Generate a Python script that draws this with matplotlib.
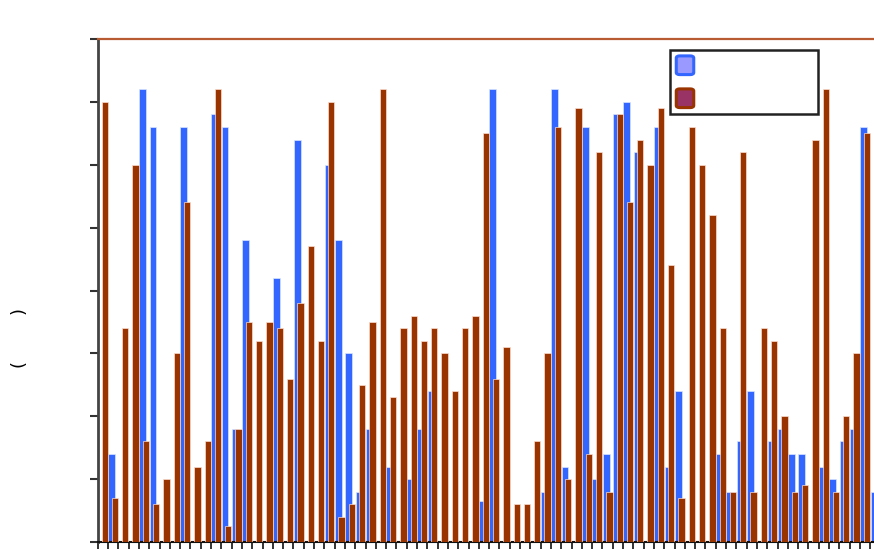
import matplotlib
matplotlib.use("Agg")
import matplotlib.pyplot as plt
from matplotlib.patches import Rectangle, FancyBboxPatch
import numpy as np

# category index (one per x tick) (0-80 scale)
categories = list(range(76))
series_blue = [0, 14, 0, 0, 72, 66, 0, 0, 66, 0,
               0, 68, 66, 18, 48, 0, 0, 42, 0, 64,
               0, 0, 60, 48, 30, 8, 18, 0, 12, 0,
               10, 18, 24, 0, 0, 0, 0, 6.5, 72, 0,
               0, 0, 0, 8, 72, 12, 0, 66, 10, 14,
               68, 70, 62, 0, 66, 12, 24, 0, 0, 0,
               14, 8, 16, 24, 0, 16, 18, 14, 14, 0,
               12, 10, 16, 18, 66, 8]
series_brown = [70, 7, 34, 60, 16, 6, 10, 30, 54, 12,
                16, 72, 2.5, 18, 35, 32, 35, 34, 26, 38,
                47, 32, 70, 4, 6, 25, 35, 72, 23, 34,
                36, 32, 34, 30, 24, 34, 36, 65, 26, 31,
                6, 6, 16, 30, 66, 10, 69, 14, 62, 8,
                68, 54, 64, 60, 69, 44, 7, 66, 60, 52,
                34, 8, 62, 8, 34, 32, 20, 8, 9, 64,
                72, 8, 20, 30, 65, 71]

BLUE = "#3366ff"
BROWN = "#993300"

W, H = 874, 550
fig = plt.figure(figsize=(W / 100, H / 100), dpi=100)
fig.patch.set_facecolor("white")

left_px, top_px, bottom_px = 97.7, 39, 542
pitch = 10.3
n_units = 80
ax = fig.add_axes([left_px / W, (H - bottom_px) / H,
                   n_units * pitch / W, (bottom_px - top_px) / H])

x = np.array(categories, dtype=float)
blue_vals = np.array(series_blue, dtype=float)
brown_vals = np.array(series_brown, dtype=float)
bmask = blue_vals > 0
rmask = brown_vals > 0
ax.bar(x[bmask] + 0.36, blue_vals[bmask], width=0.66, color=BLUE,
       edgecolor=(0.85, 0.9, 1.0, 0.7), linewidth=0.7, zorder=2)
ax.bar(x[rmask] + 0.68, brown_vals[rmask], width=0.62, color=BROWN,
       edgecolor=(1.0, 0.88, 0.82, 0.7), linewidth=0.7, zorder=3)

ax.set_xlim(0, n_units)
ax.set_ylim(0, 80)
ax.set_yticks(np.arange(0, 81, 10))
ax.set_yticklabels([])
ax.set_xticks(np.arange(0, n_units + 1, 1))
ax.set_xticklabels([])
ax.tick_params(axis="y", direction="out", length=6, width=1.5, color="#333333")
ax.tick_params(axis="x", direction="out", length=5, width=1.2, color="#111111")

ax.spines["right"].set_visible(False)
ax.spines["left"].set_color("#444444")
ax.spines["left"].set_linewidth(2)
ax.spines["bottom"].set_color("#111111")
ax.spines["bottom"].set_linewidth(1.5)
ax.spines["top"].set_color("#b85a32")
ax.spines["top"].set_linewidth(1.6)

# y-axis title (its inner characters are not rendered in the reference)
fig.text(20 / W, 1 - 338 / H, "(        )", rotation=90, fontsize=13,
         ha="center", va="center", family="DejaVu Sans")

# legend box (labels absent in the reference)
def fx(px):
    return px / W

def fy(py):
    return 1 - py / H

box = Rectangle((fx(670), fy(114)), fx(818) - fx(670), fy(50) - fy(114),
                transform=fig.transFigure, facecolor="white",
                edgecolor="#222222", linewidth=1.8, zorder=10)
fig.add_artist(box)
for (y0, y1, fc, ec) in [(57, 73.5, "#9999ff", BLUE), (90, 106.5, "#993366", BROWN)]:
    p = FancyBboxPatch((fx(678), fy(y1)), fx(692) - fx(678), fy(y0) - fy(y1),
                       boxstyle="round,pad=0.002,rounding_size=0.004",
                       transform=fig.transFigure, facecolor=fc, edgecolor=ec,
                       linewidth=2.2, zorder=11)
    fig.add_artist(p)

fig.savefig("out.png", dpi=100)
